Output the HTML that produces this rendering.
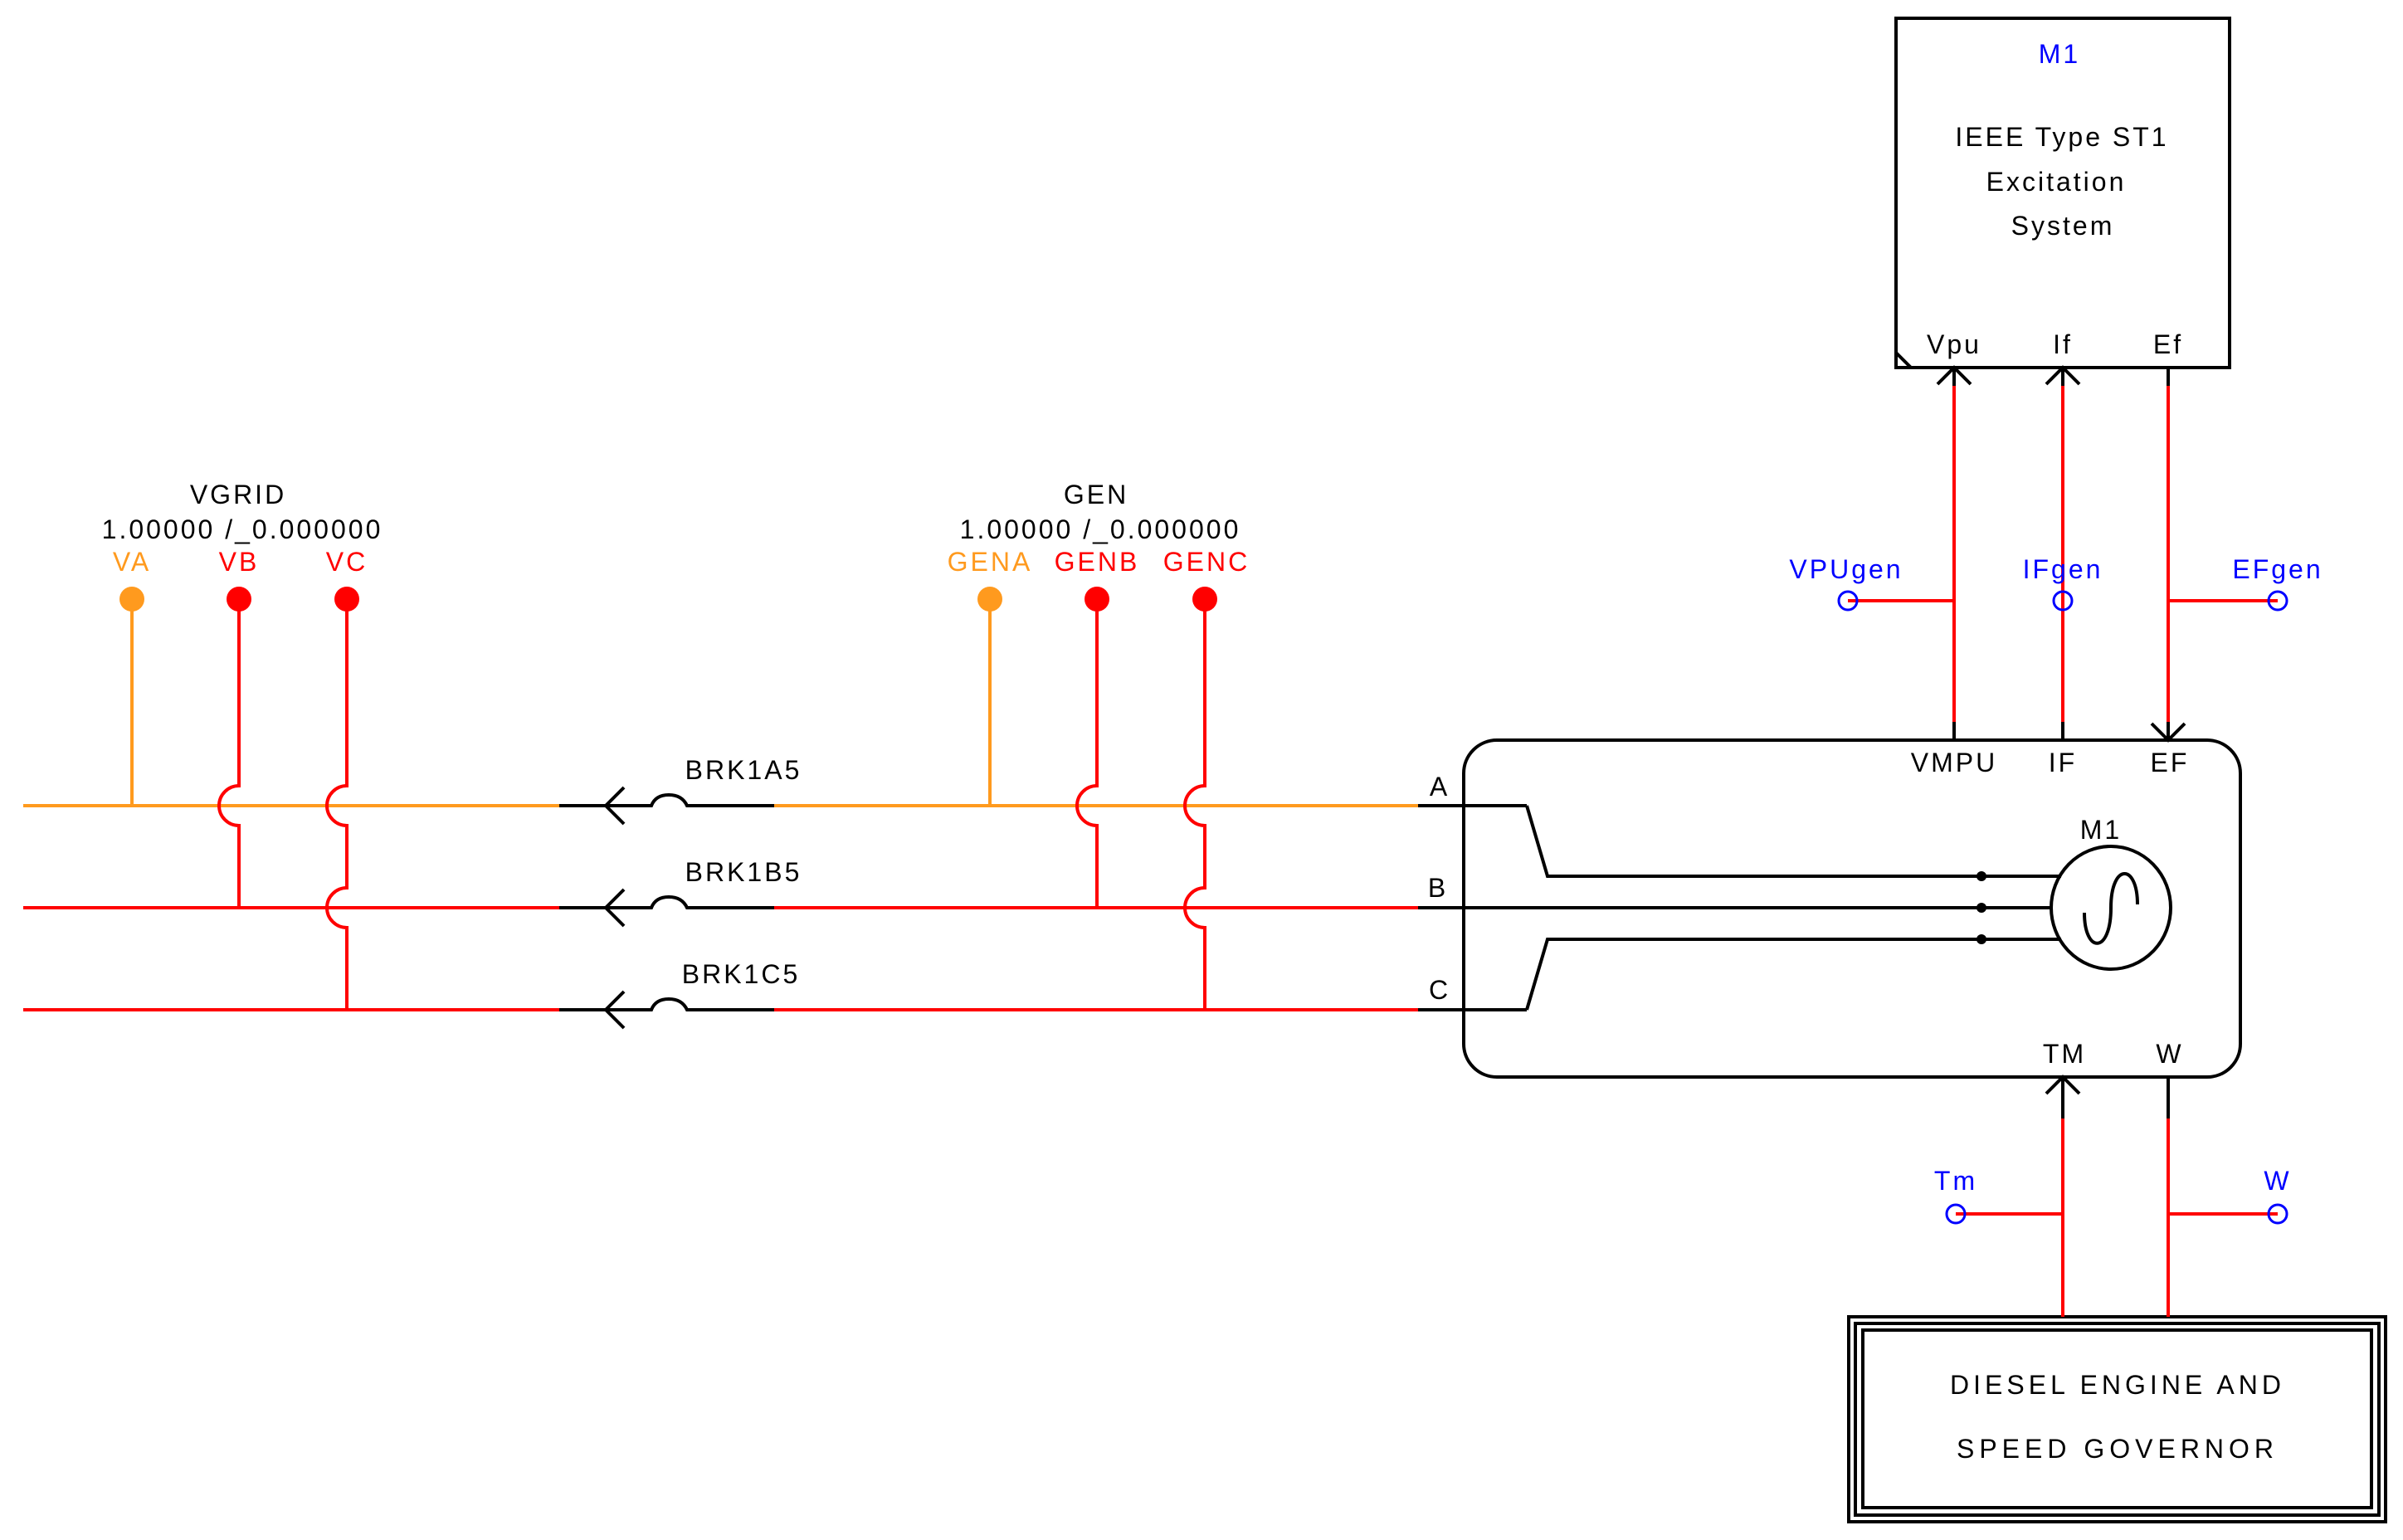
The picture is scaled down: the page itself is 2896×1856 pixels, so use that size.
<!DOCTYPE html>
<html><head><meta charset="utf-8"><style>
html,body{margin:0;padding:0;background:#fff;}
svg{display:block;}
text{font-family:"Liberation Sans",sans-serif;}
</style></head><body>
<svg width="2896" height="1856" viewBox="0 0 2896 1856" xmlns="http://www.w3.org/2000/svg">
<rect width="2896" height="1856" fill="#fff"/>
<g fill="none" stroke-width="4">
<line x1="28" y1="971" x2="674" y2="971" stroke="#ff9a1e"/>
<line x1="933" y1="971" x2="1709" y2="971" stroke="#ff9a1e"/>
<line x1="28" y1="1094" x2="674" y2="1094" stroke="#ff0000"/>
<line x1="933" y1="1094" x2="1709" y2="1094" stroke="#ff0000"/>
<line x1="28" y1="1217" x2="674" y2="1217" stroke="#ff0000"/>
<line x1="933" y1="1217" x2="1709" y2="1217" stroke="#ff0000"/>
<line x1="159" y1="722" x2="159" y2="971" stroke="#ff9a1e"/>
<path d="M288 722 V947 A24 24 0 0 0 288 995 V1094" stroke="#ff0000"/>
<path d="M418 722 V947 A24 24 0 0 0 418 995 V1070 A24 24 0 0 0 418 1118 V1217" stroke="#ff0000"/>
<line x1="1193" y1="722" x2="1193" y2="971" stroke="#ff9a1e"/>
<path d="M1322 722 V947 A24 24 0 0 0 1322 995 V1094" stroke="#ff0000"/>
<path d="M1452 722 V947 A24 24 0 0 0 1452 995 V1070 A24 24 0 0 0 1452 1118 V1217" stroke="#ff0000"/>
</g>
<g fill="#ff9a1e"><circle cx="159" cy="722" r="15"/><circle cx="1193" cy="722" r="15"/></g>
<g fill="#ff0000"><circle cx="288" cy="722" r="15"/><circle cx="418" cy="722" r="15"/><circle cx="1322" cy="722" r="15"/><circle cx="1452" cy="722" r="15"/></g>
<g fill="none" stroke="#000" stroke-width="4">
<path d="M674 971 H785 Q790 958 806 958 Q822 958 828 971 H933 M752 949 L730 971 L752 993"/>
<path d="M674 1094 H785 Q790 1081 806 1081 Q822 1081 828 1094 H933 M752 1072 L730 1094 L752 1116"/>
<path d="M674 1217 H785 Q790 1204 806 1204 Q822 1204 828 1217 H933 M752 1195 L730 1217 L752 1239"/>
<line x1="1709" y1="971" x2="1840" y2="971"/>
<line x1="1709" y1="1094" x2="2472" y2="1094"/>
<line x1="1709" y1="1217" x2="1840" y2="1217"/>
<path d="M1840 971 L1865 1056 H2484"/>
<path d="M1840 1217 L1865 1132 H2484"/>
<rect x="1764" y="892" width="936" height="406" rx="40" ry="40"/>
<ellipse cx="2544" cy="1094" rx="72" ry="74"/>
<path d="M2512 1100 C2512 1150 2544 1150 2544 1094 C2544 1040 2576 1040 2576 1090"/>
<rect x="2285" y="22" width="402" height="421"/>
<line x1="2285" y1="425" x2="2303" y2="443"/>
<rect x="2228" y="1587" width="647" height="247"/>
<rect x="2236" y="1595" width="631" height="231"/>
<rect x="2245" y="1603" width="613" height="214"/>
</g>
<g fill="#000"><circle cx="2388" cy="1056" r="6"/><circle cx="2388" cy="1094" r="6"/><circle cx="2388" cy="1132" r="6"/></g>
<g stroke-width="4" fill="none">
<g stroke="#ff0000">
<line x1="2355" y1="465" x2="2355" y2="870"/>
<line x1="2486" y1="465" x2="2486" y2="870"/>
<line x1="2613" y1="465" x2="2613" y2="870"/>
<line x1="2227" y1="724" x2="2355" y2="724"/>
<line x1="2613" y1="724" x2="2745" y2="724"/>
<line x1="2486" y1="1348" x2="2486" y2="1587"/>
<line x1="2613" y1="1348" x2="2613" y2="1587"/>
<line x1="2357" y1="1463" x2="2486" y2="1463"/>
<line x1="2613" y1="1463" x2="2745" y2="1463"/>
</g>
<g stroke="#000">
<path d="M2355 443 V465 M2335 463 L2355 443 L2375 463"/>
<path d="M2486 443 V465 M2466 463 L2486 443 L2506 463"/>
<path d="M2613 443 V465"/>
<path d="M2355 870 V892 M2486 870 V892 M2613 870 V892 M2593 872 L2613 892 L2633 872"/>
<path d="M2486 1298 V1348 M2466 1318 L2486 1298 L2506 1318"/>
<path d="M2613 1298 V1348"/>
</g>
<g stroke="#0000ff" stroke-width="3">
<circle cx="2227" cy="724" r="11"/><circle cx="2486" cy="724" r="11"/><circle cx="2745" cy="724" r="11"/>
<circle cx="2357" cy="1463" r="11"/><circle cx="2745" cy="1463" r="11"/>
</g>
</g>
<g font-size="32" text-anchor="middle" fill="#000" letter-spacing="3">
<text x="287" y="607">VGRID</text>
<text x="292" y="649">1.00000 /_0.000000</text>
<text x="1321" y="607">GEN</text>
<text x="1326" y="649">1.00000 /_0.000000</text>
<text x="159" y="688" fill="#ff9a1e">VA</text>
<text x="288" y="688" fill="#ff0000">VB</text>
<text x="418" y="688" fill="#ff0000">VC</text>
<text x="1193" y="688" fill="#ff9a1e">GENA</text>
<text x="1322" y="688" fill="#ff0000">GENB</text>
<text x="1454" y="688" fill="#ff0000">GENC</text>
<text x="896" y="939">BRK1A5</text>
<text x="896" y="1062">BRK1B5</text>
<text x="893" y="1185">BRK1C5</text>
<text x="1735" y="959">A</text>
<text x="1733" y="1081">B</text>
<text x="1735" y="1204">C</text>
<text x="2355" y="930">VMPU</text>
<text x="2486" y="930">IF</text>
<text x="2615" y="930">EF</text>
<text x="2532" y="1011">M1</text>
<text x="2488" y="1281">TM</text>
<text x="2615" y="1281">W</text>
<text x="2482" y="76" fill="#0000ff">M1</text>
<text x="2485" y="176">IEEE Type  ST1</text>
<text x="2478" y="230">Excitation</text>
<text x="2486" y="283">System</text>
<text x="2355" y="426">Vpu</text>
<text x="2486" y="426">If</text>
<text x="2613" y="426">Ef</text>
<g fill="#0000ff">
<text x="2225" y="697">VPUgen</text>
<text x="2486" y="697">IFgen</text>
<text x="2745" y="697">EFgen</text>
<text x="2357" y="1434">Tm</text>
<text x="2745" y="1434">W</text>
</g>
<text x="2552" y="1680" letter-spacing="5">DIESEL ENGINE AND</text>
<text x="2552" y="1757" letter-spacing="6">SPEED GOVERNOR</text>
</g>
</svg>
</body></html>
